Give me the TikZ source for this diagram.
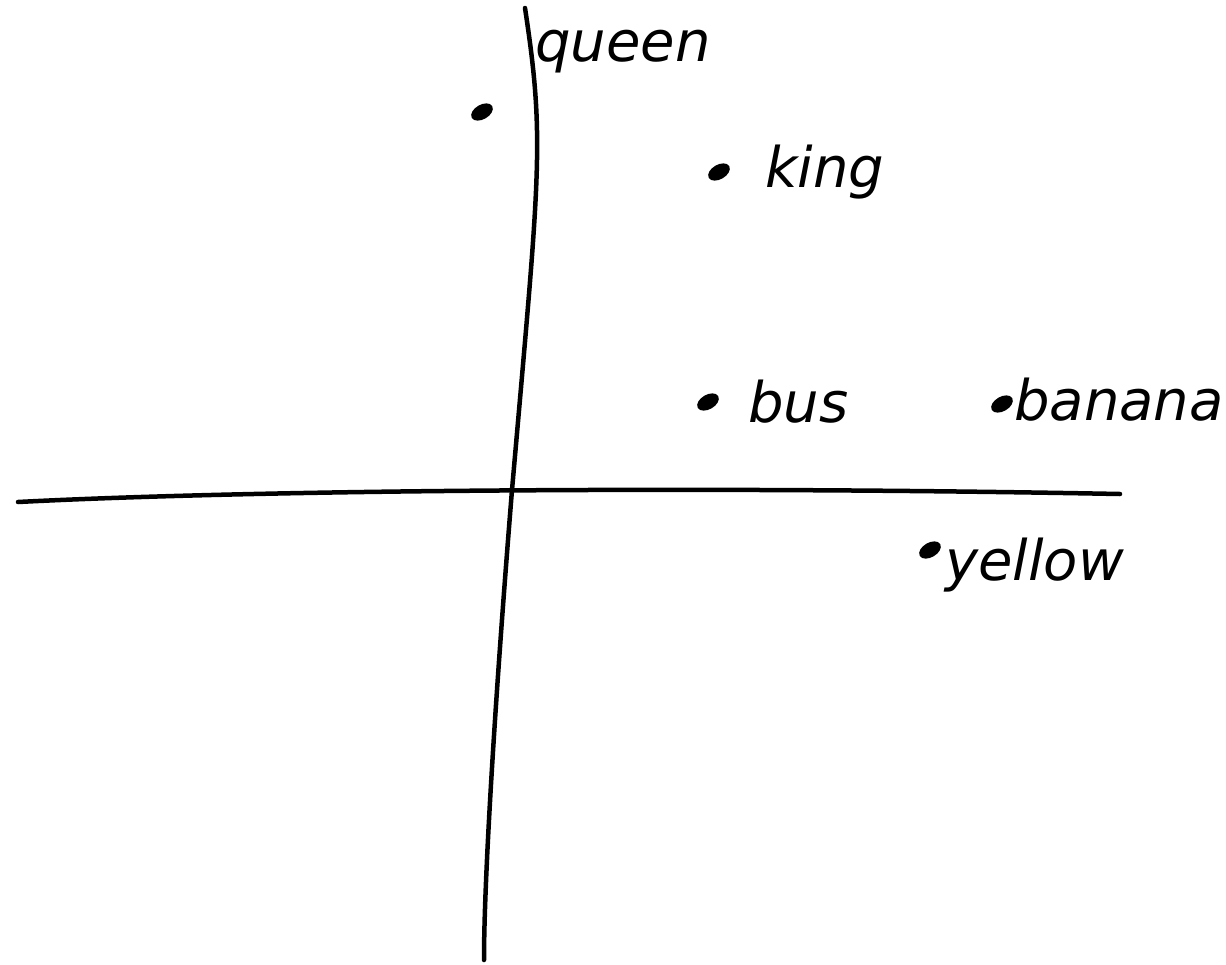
\documentclass[tikz,border=0pt]{standalone}
\usepackage{fontspec}
\setmainfont{DejaVu Sans}
\usetikzlibrary{shapes.geometric}
\begin{document}
\begin{tikzpicture}[x=1pt,y=-1pt,
  axis/.style={line width=4.5pt,line cap=round,line join=round},
  pt/.style={ellipse,fill=black,draw=black,line width=1.5pt,minimum width=22pt,minimum height=13pt,inner sep=0pt,rotate=30},
  lbl/.style={font=\fontsize{56}{60}\selectfont\itshape,inner sep=0pt,anchor=west}]
\useasboundingbox (0,0) rectangle (1226,964);
\coordinate (hl) at (18,502);
\coordinate (hr) at (1120,494);
\coordinate (vt) at (525,8);
\coordinate (vb) at (484,960);
\draw[axis] (hl) .. controls (250,490) and (700,486) .. (hr);
\draw[axis] (vt) .. controls (545,140) and (540,170) .. (512,490) .. controls (495,700) and (484,880) .. (vb);
\node[pt] (dq) at (482,112) {};
\node[pt] (dk) at (719,172) {};
\node[pt] (db) at (708,402) {};
\node[pt] (dn) at (1002,404) {};
\node[pt] (dy) at (930,550) {};
\node[lbl] (queen) at (535,52) {queen};
\node[lbl] (king) at (765,172) {king};
\node[lbl] (bus) at (748,402) {bus};
\node[lbl] (banana) at (1014,400) {banana};
\node[lbl] (yellow) at (945,565) {yellow};
\end{tikzpicture}
\end{document}
